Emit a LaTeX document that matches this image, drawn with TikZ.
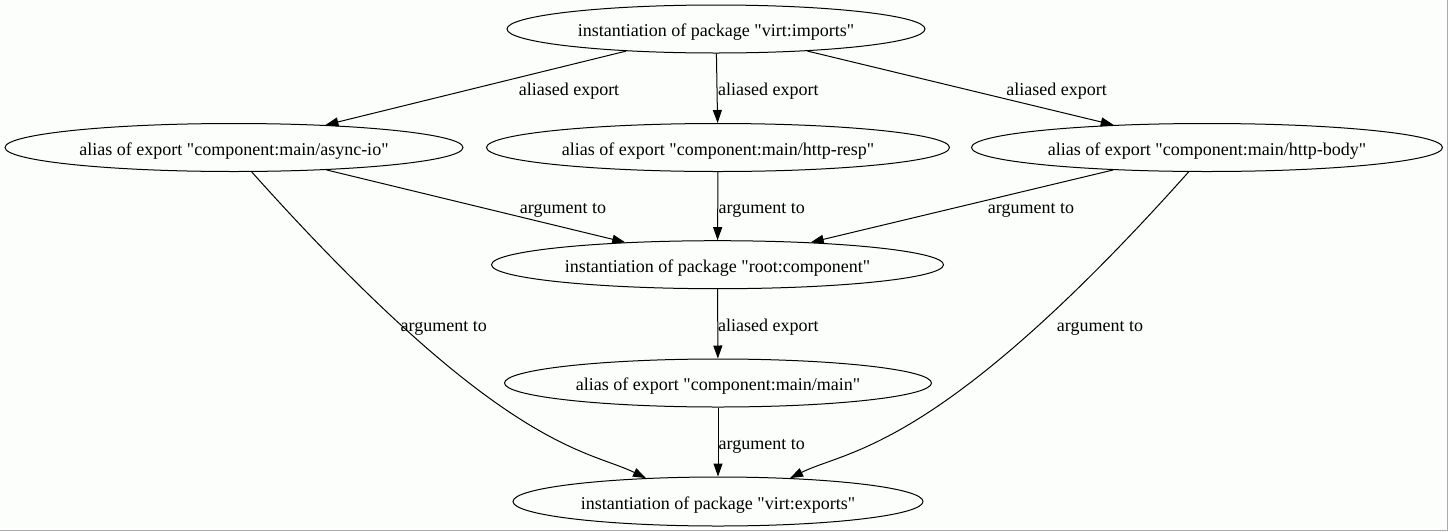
\documentclass[tikz,border=0pt]{standalone}
\usepackage{fontspec}
\setmainfont{Liberation Serif}[Ligatures=TeXOff]
\usetikzlibrary{shapes.geometric,arrows.meta}
\definecolor{bgcol}{RGB}{252,254,252}
\definecolor{framecol}{RGB}{170,170,170}
\begin{document}
\begin{tikzpicture}[x=1pt,y=-1pt,
  every node/.style={font=\fontsize{18}{20}\selectfont,text height=15pt,text depth=0pt},
  gnode/.style={ellipse,draw,line width=1pt,inner sep=0pt,minimum height=48pt},
  edge/.style={line width=1pt,-{Triangle[length=13pt,width=9pt]}},
  elabel/.style={inner sep=0pt}]
\fill[bgcol] (0,0) rectangle (1448,531);
\useasboundingbox (0,0) rectangle (1448,531);
\draw[framecol,line width=1pt] (1447.5,0) -- (1447.5,530.5) -- (0,530.5);

\node[gnode,minimum width=418pt] (imp) at (716,29) {instantiation of package "virt:imports"};
\node[gnode,minimum width=458pt] (aio) at (234,147.5) {alias of export "component:main/async-io"};
\node[gnode,minimum width=463pt] (resp) at (718,147.5) {alias of export "component:main/http-resp"};
\node[gnode,minimum width=471pt] (body) at (1207,147.5) {alias of export "component:main/http-body"};
\node[gnode,minimum width=452pt] (root) at (717.5,264.7) {instantiation of package "root:component"};
\node[gnode,minimum width=427pt] (main) at (718,383) {alias of export "component:main/main"};
\node[gnode,minimum width=410pt,minimum height=49pt] (exp) at (718,501.5) {instantiation of package "virt:exports"};

\draw[edge] (imp) -- (aio);
\draw[edge] (imp) -- (resp);
\draw[edge] (imp) -- (body);
\draw[edge] (aio) -- (root);
\draw[edge] (resp) -- (root);
\draw[edge] (body) -- (root);
\draw[edge] (root) -- (main);
\draw[edge] (main) -- (exp);
\draw[edge] (aio.-54) .. controls (502,451.7) and (587,449.4) .. (exp.162);
\draw[edge] (body.-127) .. controls (939,451.7) and (848,449.4) .. (exp.18);

\node[elabel] (l1) at (569,87.5) {aliased export};
\node[elabel] (l2) at (768.3,87.5) {aliased export};
\node[elabel] (l3) at (1056.7,87.5) {aliased export};
\node[elabel] (l4) at (563,205.5) {argument to};
\node[elabel] (l5) at (761.7,205.5) {argument to};
\node[elabel] (l6) at (1031,205.5) {argument to};
\node[elabel] (l7) at (768.3,323.7) {aliased export};
\node[elabel] (l8) at (443.7,323.7) {argument to};
\node[elabel] (l9) at (1100,323.7) {argument to};
\node[elabel] (l10) at (761.7,441.7) {argument to};
\end{tikzpicture}
\end{document}
